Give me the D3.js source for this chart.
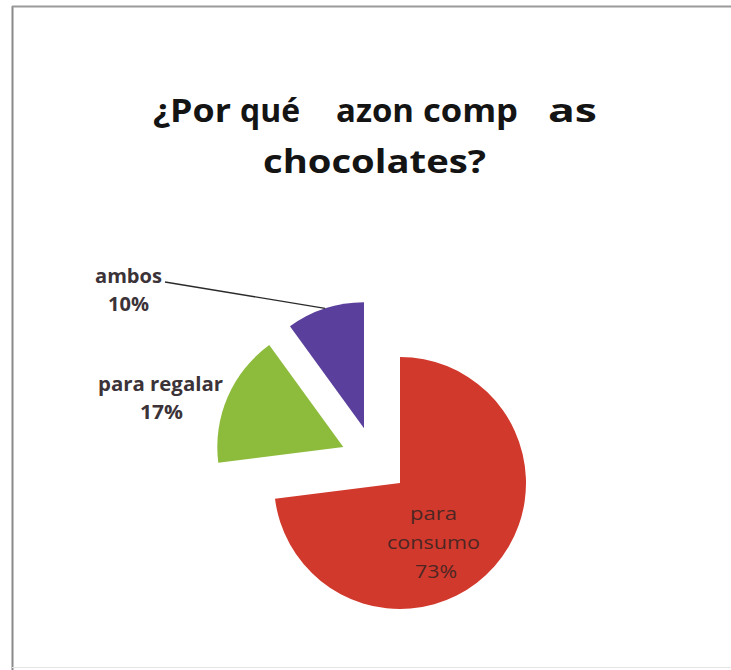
<!DOCTYPE html>
<html>
<head>
<meta charset="utf-8">
<script src="https://cdn.jsdelivr.net/npm/d3@7"></script>
<style>
  html, body { margin: 0; padding: 0; background: #fff; }
  svg { display: block; }
</style>
</head>
<body>
<svg id="chart" width="731" height="670"></svg>
<script>
// Survey answers and their shares (%)
const categories = ["para consumo", "para regalar", "ambos"];
const values = [73, 17, 10];
const colors = ["#d2392d", "#8dbb3b", "#5b3f9d"];

// Title words as printed (some letters are missing in the printed title)
const titleLine1 = ["¿Por", "qué", "azon", "comp", "as"];
const titleLine2 = "chocolates?";

const W = 731, H = 670;
const svg = d3.select("#chart");

// Frame
svg.append("line").attr("x1", 12.5).attr("y1", 6).attr("x2", 12.5).attr("y2", H)
  .attr("stroke", "#8a8a8a").attr("stroke-width", 2);
svg.append("line").attr("x1", 12).attr("y1", 6.5).attr("x2", W).attr("y2", 6.5)
  .attr("stroke", "#9a9a9a").attr("stroke-width", 2);
svg.append("line").attr("x1", 12).attr("y1", 667.5).attr("x2", W).attr("y2", 667.5)
  .attr("stroke", "#e4e4e4").attr("stroke-width", 1);

// Helper: text fitted into a box [x0, x1]
function boxText(parent, str, x0, x1, y) {
  return parent.append("text")
    .attr("x", x0).attr("y", y)
    .attr("textLength", x1 - x0)
    .attr("lengthAdjust", "spacingAndGlyphs")
    .text(str);
}

const font = "'Open Sans', 'Noto Sans', sans-serif";

// Title
const t1 = svg.append("g").attr("font-family", font).attr("font-weight", 700)
  .attr("font-size", 33).attr("fill", "#141414");
const titleBoxes = [[153, 231], [240, 300], [336, 414], [423, 518], [548, 597]];
titleLine1.forEach((w, i) => boxText(t1, w, titleBoxes[i][0], titleBoxes[i][1], 122));
boxText(t1, titleLine2, 263, 486, 173);

// Exploded pie
const cx = 374.5, cy = 460.5, radius = 126, explode = 34;
const pie = d3.pie().sort(null).value(d => d).startAngle(0).endAngle(2 * Math.PI);
const arcs = pie(values);
const arc = d3.arc().innerRadius(0).outerRadius(radius);

const offset = a => {
  const m = (a.startAngle + a.endAngle) / 2;
  return [explode * Math.sin(m), -explode * Math.cos(m)];
};

const g = svg.append("g").attr("transform", `translate(${cx},${cy})`);
g.selectAll("path").data(arcs).join("path")
  .attr("transform", d => { const o = offset(d); return `translate(${o[0]},${o[1]})`; })
  .attr("d", arc)
  .attr("fill", (d, i) => colors[i]);

// "ambos": leader line from the slice edge to the label
const amb = arcs[2];
const ao = offset(amb);
const am = (amb.startAngle + amb.endAngle) / 2;
const edge = [cx + ao[0] + radius * Math.sin(am), cy + ao[1] - radius * Math.cos(am)];
svg.append("path")
  .attr("d", d3.line()([[165, 282], edge]))
  .attr("stroke", "#2a2a2a").attr("stroke-width", 1.3).attr("fill", "none");

// Outside labels
const side = svg.append("g").attr("font-family", font).attr("font-weight", 700)
  .attr("font-size", 19).attr("fill", "#3b3338");
boxText(side, categories[2], 95, 162, 283);
boxText(side, values[2] + "%", 108, 149, 311);
boxText(side, categories[1], 98, 223, 391);
boxText(side, values[1] + "%", 140, 183, 419);

// Label inside the large slice
const inner = svg.append("g").attr("font-family", font).attr("font-weight", 400)
  .attr("font-size", 19).attr("fill", "#4c2622");
const words = categories[0].split(" ");
boxText(inner, words[0], 410, 457, 520);
boxText(inner, words[1], 387, 480, 549);
boxText(inner, values[0] + "%", 415, 457, 578);
</script>
</body>
</html>
